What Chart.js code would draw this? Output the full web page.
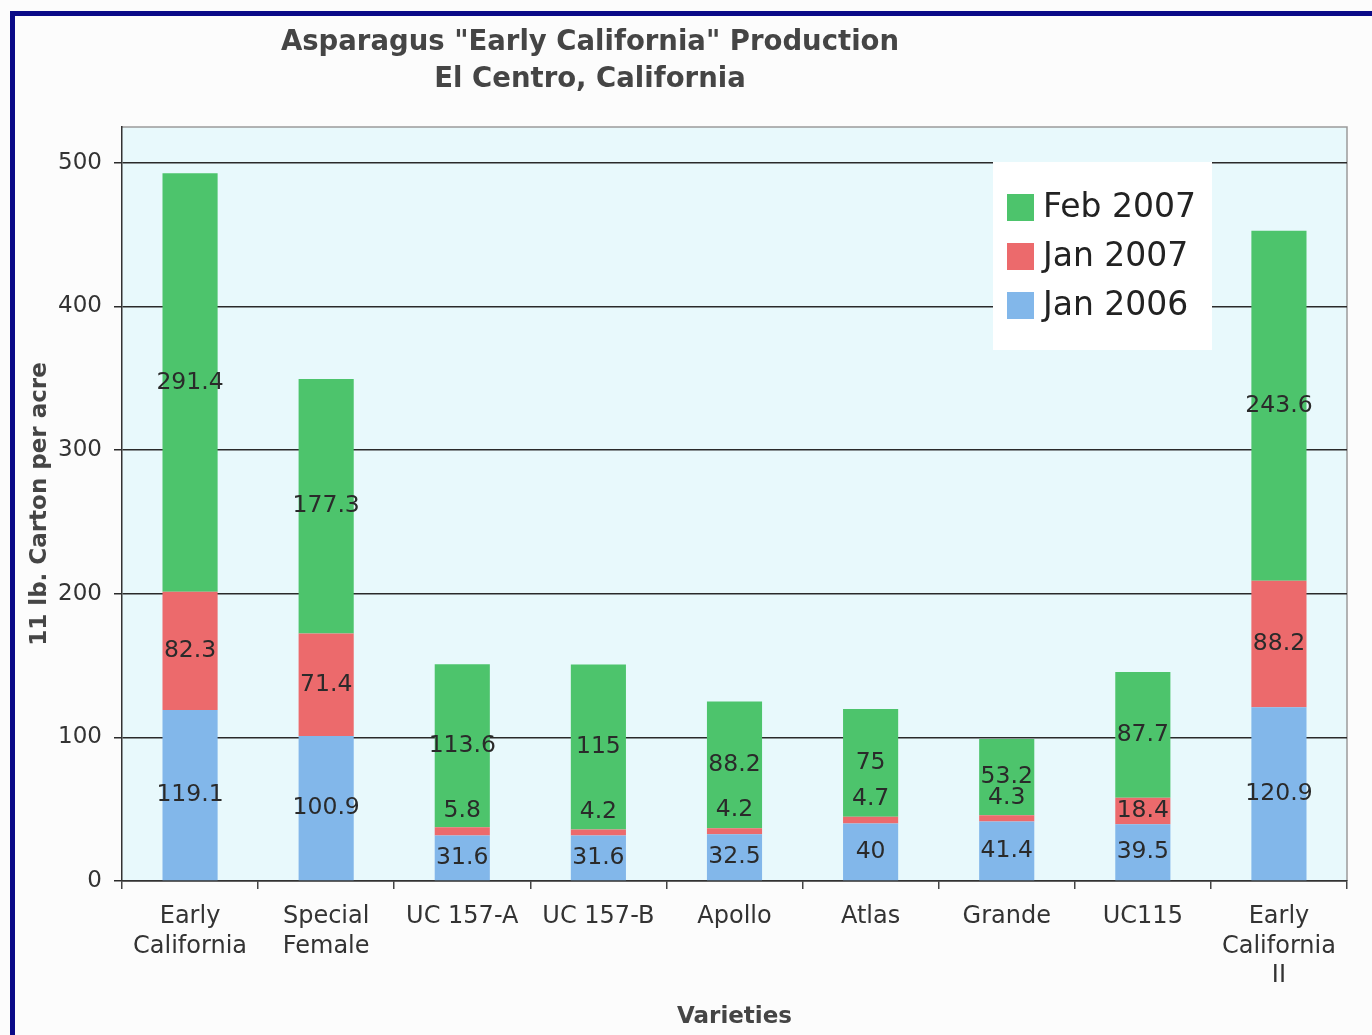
<!DOCTYPE html>
<html>
<head>
<meta charset="utf-8">
<script src="https://cdn.jsdelivr.net/npm/chart.js@4.4.0/dist/chart.umd.min.js"></script>
<style>
body { margin: 0; background: #fcfcfc; overflow: hidden; }
canvas { position: absolute; left: 0; top: 0; }
#frame { position: absolute; left: 10px; top: 11px; width: 1400px; height: 1100px;
  border: 5px solid #0a0a88; pointer-events: none; }
</style>
</head>
<body>
<canvas id="canvas" width="1372" height="1035"></canvas>
<div id="frame"></div>
<script>
const varieties = [['Early', 'California'], ['Special', 'Female'], 'UC 157-A', 'UC 157-B',
  'Apollo', 'Atlas', 'Grande', 'UC115', ['Early', 'California', 'II']];
const jan2006 = [119.1, 100.9, 31.6, 31.6, 32.5, 40, 41.4, 39.5, 120.9];
const jan2007 = [82.3, 71.4, 5.8, 4.2, 4.2, 4.7, 4.3, 18.4, 88.2];
const feb2007 = [291.4, 177.3, 113.6, 115, 88.2, 75, 53.2, 87.7, 243.6];
const yTicks = [0, 100, 200, 300, 400, 500];
const titleLines = ['Asparagus "Early California" Production', 'El Centro, California'];

const FONT = "'DejaVu Sans', Verdana, sans-serif";
Chart.defaults.font.family = FONT;
Chart.defaults.color = '#333';

// plot background + top/right frame
const plotBg = {
  id: 'plotBg',
  beforeDraw(chart) {
    const { ctx, chartArea: a } = chart;
    ctx.save();
    ctx.fillStyle = '#e8f9fc';
    ctx.fillRect(a.left, a.top, a.right - a.left, a.bottom - a.top);
    ctx.strokeStyle = '#9a9a9a';
    ctx.lineWidth = 1.5;
    ctx.beginPath();
    ctx.moveTo(a.left, a.top);
    ctx.lineTo(a.right, a.top);
    ctx.lineTo(a.right, a.bottom);
    ctx.stroke();
    ctx.restore();
  }
};

// title, value labels and legend box
const extras = {
  id: 'extras',
  afterDatasetsDraw(chart) {
    const { ctx, chartArea: a } = chart;
    ctx.save();
    ctx.font = '23.5px ' + FONT;
    ctx.fillStyle = '#2a2a2a';
    ctx.textAlign = 'center';
    ctx.textBaseline = 'middle';
    chart.data.datasets.forEach((ds, i) => {
      chart.getDatasetMeta(i).data.forEach((bar, j) => {
        const h = bar.base - bar.y;
        let y = (bar.y + bar.base) / 2;
        if (h < 20) y -= 21; // thin segments: label sits just above
        ctx.fillText(String(ds.data[j]), bar.x, y);
      });
    });

    // legend
    const bx = a.right - 354, by = a.top + 35;
    ctx.fillStyle = '#ffffff';
    ctx.fillRect(bx, by, 219, 188);
    ctx.font = '33px ' + FONT;
    ctx.textAlign = 'left';
    const items = chart.data.datasets.slice().reverse();
    items.forEach((ds, i) => {
      const cy = by + 45 + i * 49;
      ctx.fillStyle = ds.backgroundColor;
      ctx.fillRect(bx + 14, cy - 13, 27, 27);
      ctx.fillStyle = '#222';
      ctx.fillText(ds.label, bx + 50, cy + 1);
    });
    ctx.restore();
  },
  afterDraw(chart) {
    const { ctx } = chart;
    ctx.save();
    ctx.font = 'bold 27.5px ' + FONT;
    ctx.fillStyle = '#454545';
    ctx.textAlign = 'center';
    ctx.textBaseline = 'middle';
    ctx.fillText(titleLines[0], 590, 43);
    ctx.fillText(titleLines[1], 590, 80);
    ctx.restore();
  }
};

new Chart(document.getElementById('canvas').getContext('2d'), {
  type: 'bar',
  data: {
    labels: varieties,
    datasets: [
      { label: 'Jan 2006', data: jan2006, backgroundColor: '#82b7ea' },
      { label: 'Jan 2007', data: jan2007, backgroundColor: '#ec6a6c' },
      { label: 'Feb 2007', data: feb2007, backgroundColor: '#4dc46c' }
    ]
  },
  options: {
    responsive: false,
    animation: false,
    devicePixelRatio: 1,
    layout: { padding: { left: 14, top: 127, right: 25, bottom: 0 } },
    datasets: { bar: { barPercentage: 0.405, categoryPercentage: 1 } },
    plugins: { legend: { display: false }, tooltip: { enabled: false } },
    scales: {
      x: {
        stacked: true,
        afterFit: s => { s.height = 154; },
        grid: { drawOnChartArea: false, drawTicks: true, tickLength: 8, color: '#444', lineWidth: 1.5 },
        border: { color: '#333', width: 1.5 },
        ticks: { font: { size: 24, lineHeight: 1.23 }, padding: 13, color: '#333', maxRotation: 0, autoSkip: false },
        title: { display: true, text: 'Varieties', color: '#454545',
          font: { size: 23, weight: 'bold' }, padding: { top: 0, bottom: 4 } }
      },
      y: {
        stacked: true,
        min: 0,
        max: 525,
        afterFit: s => { s.width = 108; },
        afterBuildTicks: s => { s.ticks = yTicks.map(v => ({ value: v })); },
        grid: { color: '#2a2a2a', lineWidth: 1.5, tickLength: 8 },
        border: { color: '#333', width: 1.5 },
        ticks: { font: { size: 23 }, padding: 12, color: '#333' },
        title: { display: true, text: '11 lb. Carton per acre', color: '#454545',
          font: { size: 23, weight: 'bold' }, padding: { top: 12, bottom: 0 } }
      }
    }
  },
  plugins: [plotBg, extras]
});
</script>
</body>
</html>
